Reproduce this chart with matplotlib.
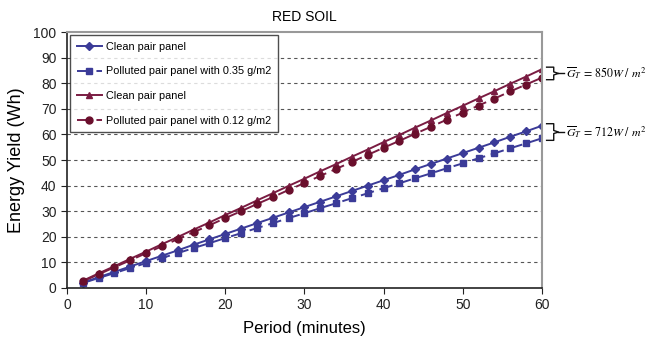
import numpy as np
import matplotlib
matplotlib.use("Agg")
import matplotlib.pyplot as plt

plt.rcParams['font.family'] = ['Liberation Sans', 'DejaVu Sans']

# period (minutes)
period = list(range(2, 62, 2))

blue_clean = [2.1, 4.2, 6.3, 8.4, 10.5, 12.6, 14.7, 16.9, 19.0, 21.1,
              23.2, 25.3, 27.4, 29.5, 31.6, 33.7, 35.8, 37.9, 40.0, 42.1,
              44.2, 46.4, 48.5, 50.6, 52.7, 54.8, 56.9, 59.1, 61.2, 63.4]
blue_poll = [1.9, 3.9, 5.8, 7.8, 9.7, 11.7, 13.6, 15.6, 17.5, 19.5,
             21.4, 23.4, 25.3, 27.3, 29.2, 31.2, 33.1, 35.1, 37.0, 39.0,
             40.9, 42.9, 44.8, 46.8, 48.7, 50.7, 52.6, 54.6, 56.5, 58.5]
red_clean = [2.8, 5.7, 8.5, 11.4, 14.2, 17.1, 19.9, 22.8, 25.6, 28.5,
             31.3, 34.2, 37.0, 39.9, 42.7, 45.6, 48.4, 51.3, 54.1, 57.0,
             59.8, 62.7, 65.5, 68.4, 71.2, 74.1, 76.9, 79.8, 82.6, 85.5]
red_poll = [2.6, 5.3, 8.1, 10.8, 13.6, 16.3, 19.1, 21.8, 24.5, 27.3,
            30.0, 32.8, 35.5, 38.3, 41.0, 43.8, 46.5, 49.3, 52.0, 54.8,
            57.5, 60.3, 63.0, 65.8, 68.5, 71.3, 74.0, 76.8, 79.5, 82.2]

labels = ["Clean pair panel", "Polluted pair panel with 0.35 g/m2",
          "Clean pair panel", "Polluted pair panel with 0.12 g/m2"]
irradiance = ["850", "712"]

BLUE = '#3b3b98'
RED = '#7a1c42'
RED_DARK = '#6a0f2c'

fig = plt.figure(figsize=(6.56, 3.38), dpi=100)
ax = fig.add_axes([0.102, 0.148, 0.724, 0.757])

for v in range(10, 100, 10):
    ax.axhline(v, color='#555555', lw=0.8, ls=(0, (3, 3)), zorder=0)

ax.plot(period, blue_clean, color=BLUE, marker='D', ms=4.5, lw=1.4, label=labels[0])
ax.plot(period, blue_poll, color=BLUE, marker='s', ms=4.5, lw=1.4,
        ls=(0, (7, 3)), label=labels[1])
ax.plot(period, red_clean, color=RED, marker='^', ms=5, lw=1.4, label=labels[2])
ax.plot(period, red_poll, color=RED, marker='o', ms=5, lw=1.4, mfc=RED_DARK,
        mec=RED_DARK, ls=(0, (7, 3)), label=labels[3])

ax.set_xlim(0, 60)
ax.set_ylim(0, 100)
ax.set_xticks(range(0, 61, 10))
ax.set_yticks(range(0, 101, 10))
ax.tick_params(direction='out', length=4, labelsize=10, colors='#222222')
for s in ['top', 'right']:
    ax.spines[s].set_color('#999999')
    ax.spines[s].set_linewidth(1.5)
for s in ['left', 'bottom']:
    ax.spines[s].set_color('#222222')
    ax.spines[s].set_linewidth(1.2)

ax.set_title("RED SOIL", fontsize=10, pad=8)
ax.set_xlabel("Period (minutes)", fontsize=12, labelpad=6)
ax.set_ylabel("Energy Yield (Wh)", fontsize=13, labelpad=6)

leg = ax.legend(loc='upper left', bbox_to_anchor=(0.0, 1.0), fontsize=7.8,
                frameon=True, fancybox=False, edgecolor='#222222',
                handlelength=2.3, labelspacing=1.35, borderpad=0.6,
                handletextpad=0.45, borderaxespad=0.3)
leg.get_frame().set_linewidth(1.0)

# braces with irradiance annotation
pairs = [(red_clean[-1], red_poll[-1], irradiance[0]),
         (blue_clean[-1], blue_poll[-1], irradiance[1])]
for top, bot, g in pairs:
    t = top + 0.8
    b = bot - 0.8
    m = (t + b) / 2
    xs = [60.6, 61.5, 61.5, 62.1, 61.5, 61.5, 60.6]
    ys = [t, t, m + 0.6, m, m - 0.6, b, b]
    ax.plot(xs, ys, color='#111111', lw=1.0, clip_on=False)
    ax.plot([62.1, 62.8], [m, m], color='#111111', lw=1.0, clip_on=False)
    ax.text(63.1, m, r"$\overline{G}_T\,=\,%s W\ /\ m^2$" % g, fontsize=8.6,
            va='center', ha='left', math_fontfamily='stix')

fig.savefig("out.png", dpi=100)
